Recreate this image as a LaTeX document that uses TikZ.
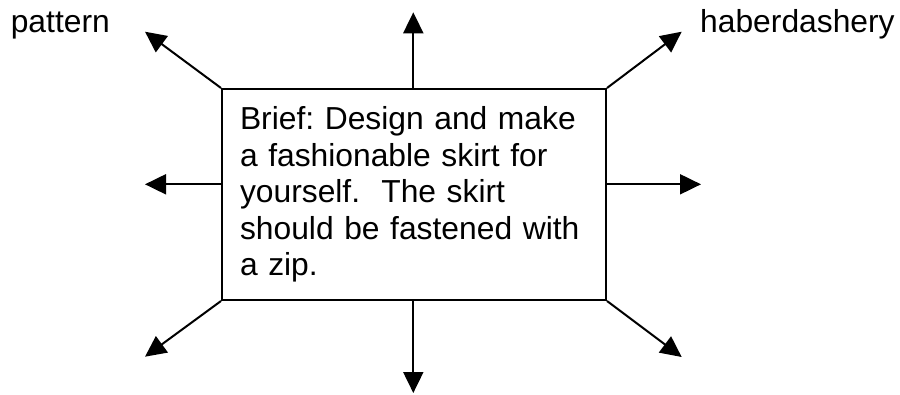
\documentclass[tikz,border=0pt]{standalone}
\usepackage{fontspec}
\setmainfont{Liberation Sans}
\usetikzlibrary{arrows.meta}
\begin{document}
\frenchspacing
\begin{tikzpicture}[x=1pt,y=-1pt,
  conn/.style={line width=2pt,-{Triangle[length=21pt,width=20pt]}},
  lbl/.style={font=\fontsize{31.8}{36.5}\selectfont, inner sep=0pt, anchor=base west}]
\useasboundingbox (0,0) rectangle (900,394);
\node (box) [draw, line width=2pt, inner sep=0pt, minimum width=384pt, minimum height=211pt,
  text width=348pt, align=left, font=\fontsize{31.8}{36.5}\selectfont\frenchspacing] at (414,194.5)
  {Brief: Design and make\\a fashionable skirt for\\yourself.\ \ The skirt\\should be fastened with\\a zip.};
\node (pat) [lbl] at (10.6,32) {pattern};
\node (hab) [lbl] at (700,32) {haberdashery};
\coordinate (tN) at (413.3,12.3);
\coordinate (tNW) at (145,31.7);
\coordinate (tNE) at (681.7,31.7);
\coordinate (tW) at (145,184.3);
\coordinate (tE) at (701,184.3);
\coordinate (tSW) at (145,356.7);
\coordinate (tS) at (413.3,393);
\coordinate (tSE) at (681.7,357);
\draw[conn] (box.north -| tN) -- (tN);
\draw[conn] (box.north west) -- (tNW);
\draw[conn] (box.north east) -- (tNE);
\draw[conn] (box.west |- tW) -- (tW);
\draw[conn] (box.east |- tE) -- (tE);
\draw[conn] (box.south west) -- (tSW);
\draw[conn] (box.south -| tS) -- (tS);
\draw[conn] (box.south east) -- (tSE);
\end{tikzpicture}
\end{document}
